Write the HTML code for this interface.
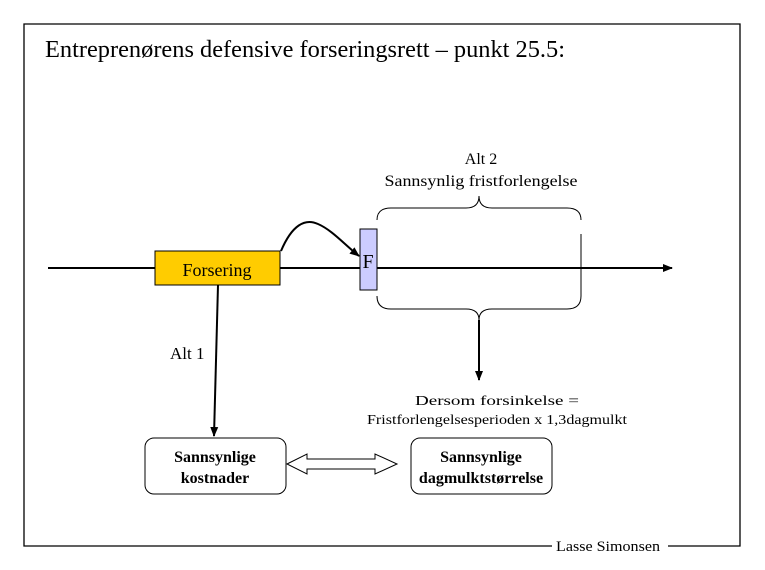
<!DOCTYPE html>
<html><head><meta charset="utf-8"><style>
html,body{margin:0;padding:0;background:#fff;}
svg{display:block;font-family:"Liberation Serif",serif;}
</style></head><body>
<svg width="765" height="570" viewBox="0 0 765 570" xmlns="http://www.w3.org/2000/svg">
<defs>
<marker id="ah" markerWidth="10" markerHeight="10" refX="9" refY="5" orient="auto" markerUnits="userSpaceOnUse"><path d="M0,1 L10,5 L0,9 z" fill="#000"/></marker>
</defs>
<rect width="765" height="570" fill="#fff"/>
<path d="M552,546 L24,546 L24,24 L740,24 L740,546 L668,546" fill="none" stroke="#000" stroke-width="1.3"/>
<text x="45" y="57" font-size="24" textLength="520" lengthAdjust="spacingAndGlyphs">Entreprenørens defensive forseringsrett – punkt 25.5:</text>
<text x="481" y="164" font-size="16" text-anchor="middle">Alt 2</text>
<text x="481" y="186" font-size="16" text-anchor="middle" textLength="193" lengthAdjust="spacingAndGlyphs">Sannsynlig fristforlengelse</text>
<line x1="48" y1="268" x2="672" y2="268" stroke="#000" stroke-width="2" marker-end="url(#ah)"/>
<rect x="155" y="251" width="125" height="34" fill="#ffcc00" stroke="#000" stroke-width="1"/>
<text x="217" y="276" font-size="18" text-anchor="middle">Forsering</text>
<path d="M281,251 C292,225 305,218 318,224 C332,230 345,245 359,256" fill="none" stroke="#000" stroke-width="2" marker-end="url(#ah)"/>
<rect x="360" y="229" width="17" height="61" fill="#ccccff" stroke="#000" stroke-width="1"/>
<text x="368" y="268" font-size="20" text-anchor="middle">F</text>
<path d="M377,220 Q377,208 391,208 L466,208 Q479,208 479,196 Q479,208 492,208 L567,208 Q581,208 581,220" fill="none" stroke="#000" stroke-width="1"/>
<line x1="581" y1="234" x2="581" y2="296" stroke="#000" stroke-width="1"/>
<path d="M377,296 Q377,309 391,309 L466,309 Q479,309 479,320 Q479,309 492,309 L567,309 Q581,309 581,296" fill="none" stroke="#000" stroke-width="1"/>
<line x1="479" y1="320" x2="479" y2="380" stroke="#000" stroke-width="2" marker-end="url(#ah)"/>
<text x="497" y="405" font-size="14" text-anchor="middle" textLength="164" lengthAdjust="spacingAndGlyphs">Dersom forsinkelse =</text>
<text x="497" y="424" font-size="14" text-anchor="middle" textLength="260" lengthAdjust="spacingAndGlyphs">Fristforlengelsesperioden x 1,3dagmulkt</text>
<line x1="218" y1="285" x2="214" y2="436" stroke="#000" stroke-width="2" marker-end="url(#ah)"/>
<text x="170" y="359" font-size="17">Alt 1</text>
<rect x="145" y="438" width="141" height="56" rx="9" fill="#fff" stroke="#000" stroke-width="1"/>
<text x="215" y="462" font-size="16" text-anchor="middle" font-weight="bold">Sannsynlige</text>
<text x="215" y="483" font-size="16" text-anchor="middle" font-weight="bold">kostnader</text>
<rect x="411" y="438" width="141" height="56" rx="9" fill="#fff" stroke="#000" stroke-width="1"/>
<text x="481" y="462" font-size="16" text-anchor="middle" font-weight="bold">Sannsynlige</text>
<text x="481" y="483" font-size="16" text-anchor="middle" font-weight="bold">dagmulktstørrelse</text>
<path d="M287,464 L307,454 L307,459 L375,459 L375,454 L397,464 L375,474 L375,469 L307,469 L307,474 z" fill="#fff" stroke="#000" stroke-width="1"/>
<text x="556" y="551" font-size="15" textLength="104" lengthAdjust="spacingAndGlyphs">Lasse Simonsen</text>
</svg>
</body></html>
